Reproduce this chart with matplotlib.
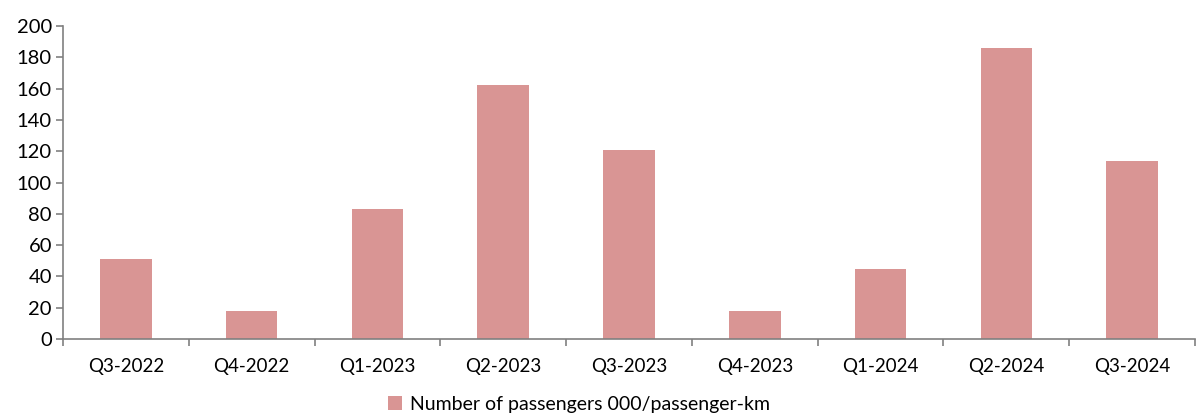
import matplotlib.pyplot as plt
import numpy as np

# data
quarters = ['Q3-2022', 'Q4-2022', 'Q1-2023', 'Q2-2023', 'Q3-2023',
            'Q4-2023', 'Q1-2024', 'Q2-2024', 'Q3-2024']
passengers = [51, 18, 83, 162, 121, 18, 45, 186, 114]

plt.rcParams['font.family'] = ['Lato', 'DejaVu Sans']

fig = plt.figure(figsize=(11.96, 4.16), dpi=100)
ax = fig.add_axes([63 / 1196, 1 - 339 / 416, (1195 - 63) / 1196, (339 - 26) / 416])

x = np.arange(len(quarters))
ax.bar(x, passengers, width=0.41, color='#d99594',
       label='Number of passengers 000/passenger-km')

ax.set_xlim(-0.5, len(quarters) - 0.5)
ax.set_ylim(0, 200)
ax.set_yticks(range(0, 201, 20))
ax.set_xticks(x)
ax.set_xticklabels(quarters)
ax.set_xticks(np.arange(-0.5, len(quarters)), minor=True)

ax.tick_params(axis='x', which='major', length=0, labelsize=13.5, pad=14)
ax.tick_params(axis='x', which='minor', length=5, color='#808080', width=1.2)
ax.tick_params(axis='y', length=5, color='#808080', width=1.2, labelsize=14.5, pad=3)

for s in ['top', 'right']:
    ax.spines[s].set_visible(False)
for s in ['left', 'bottom']:
    ax.spines[s].set_color('#808080')
    ax.spines[s].set_linewidth(1.2)

fig.legend(loc='lower center', bbox_to_anchor=(0.484, -0.035), frameon=False,
           fontsize=14, handlelength=0.75, handleheight=0.75, handletextpad=0.4)

fig.savefig('out.png', dpi=100)
